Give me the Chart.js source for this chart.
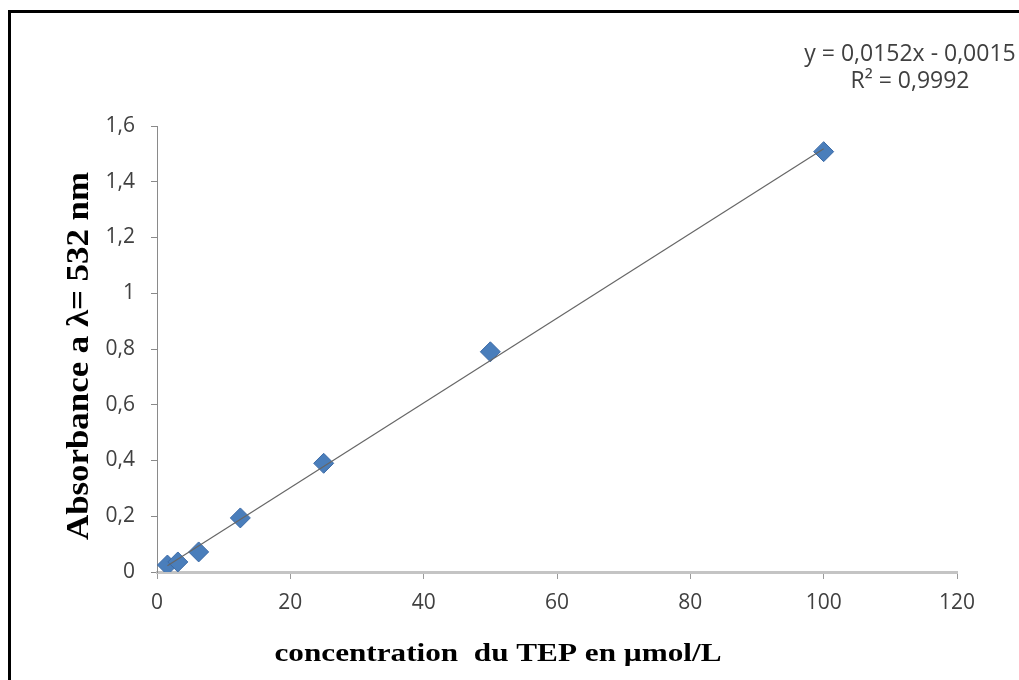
<!DOCTYPE html>
<html>
<head>
<meta charset="utf-8">
<script src="https://cdn.jsdelivr.net/npm/chart.js@4/dist/chart.umd.min.js"></script>
<style>
  html, body { margin: 0; padding: 0; background: #fff; }
  #wrap { position: relative; width: 1019px; height: 680px; overflow: hidden; }
  #frame {
    position: absolute; left: 8px; top: 10px; width: 1100px; height: 667px;
    border-left: 3px solid #000; border-top: 3px solid #000; border-bottom: 1px solid #e4e4e4;
  }
  #chartCanvas { position: absolute; left: 0; top: 0; }
</style>
</head>
<body>
<div id="wrap">
  <div id="frame"></div>
  <canvas id="chartCanvas" width="1019" height="680"></canvas>
</div>
<script>
// concentration du TEP (µmol/L) et absorbance lue
var concentrations = [1.5625, 3.125, 6.25, 12.5, 25, 50, 100];
var absorbances = [0.025, 0.036, 0.072, 0.194, 0.390, 0.790, 1.508];

// courbe de tendance (Excel)
var slope = 0.0152;
var intercept = -0.0015;
var equationLines = ["y = 0,0152x - 0,0015", "R\u00b2 = 0,9992"];

var xTitle = "concentration  du TEP en \u00b5mol/L";
var yTitle = "Absorbance a \u03bb= 532 nm";

var points = concentrations.map(function (c, i) {
    return { x: c, y: absorbances[i] };
});
var xMin = Math.min.apply(null, concentrations);
var xMax = Math.max.apply(null, concentrations);
var trend = [
    { x: xMin, y: slope * xMin + intercept },
    { x: xMax, y: slope * xMax + intercept }
];

function comma(v) {
    return (Math.round(v * 10) / 10).toString().replace(".", ",");
}

// draws text stretched along its direction to a given length
function stretchedText(ctx, text, cx, cy, angle, length) {
    var w = ctx.measureText(text).width;
    ctx.save();
    ctx.translate(cx, cy);
    ctx.rotate(angle);
    ctx.scale(length / w, 1);
    ctx.fillText(text, 0, 0);
    ctx.restore();
}

var textPlugin = {
    id: "texts",
    afterDraw: function (chart) {
        var ctx = chart.ctx;
        ctx.save();
        ctx.font = "23px 'Open Sans'";
        ctx.fillStyle = "#404040";
        ctx.textAlign = "center";
        ctx.textBaseline = "middle";
        ctx.fillText(equationLines[0], 910, 54);
        ctx.fillText(equationLines[1], 910, 81);

        ctx.fillStyle = "#000";
        ctx.textBaseline = "alphabetic";
        ctx.font = "bold 26px 'Liberation Serif'";
        stretchedText(ctx, xTitle, 498, 661, 0, 447);
        ctx.font = "bold 31px 'Liberation Serif'";
        stretchedText(ctx, yTitle, 88, 356, -Math.PI / 2, 368);
        ctx.restore();
    }
};

var ctx = document.getElementById("chartCanvas");
var chart = new Chart(ctx, {
    type: "scatter",
    data: {
        datasets: [
            {
                data: trend,
                showLine: true,
                borderColor: "#666",
                borderWidth: 1.2,
                pointRadius: 0,
                order: 0
            },
            {
                data: points,
                pointStyle: "rectRot",
                pointRadius: 10,
                pointBackgroundColor: "#4a7ebb",
                pointBorderColor: "#3c6aa6",
                pointBorderWidth: 1,
                order: 1
            }
        ]
    },
    options: {
        responsive: false,
        animation: false,
        layout: { padding: { top: 126, right: 62, left: 0, bottom: 0 } },
        plugins: {
            legend: { display: false },
            tooltip: { enabled: false }
        },
        scales: {
            x: {
                min: 0,
                max: 120,
                ticks: {
                    stepSize: 20,
                    padding: 11,
                    color: "#404040",
                    font: { family: "'Open Sans'", size: 21 }
                },
                grid: { drawOnChartArea: false, tickLength: 7, color: "#9a9a9a" },
                border: { color: "#c4c4c4", width: 3 },
                afterFit: function (scale) { scale.height = 108; }
            },
            y: {
                min: 0,
                max: 1.6,
                ticks: {
                    stepSize: 0.2,
                    padding: 16,
                    color: "#404040",
                    font: { family: "'Open Sans'", size: 21 },
                    callback: function (v) { return comma(v); }
                },
                grid: { drawOnChartArea: false, tickLength: 6, color: "#8a8a8a" },
                border: { color: "#8a8a8a", width: 1 },
                afterFit: function (scale) { scale.width = 157; }
            }
        }
    },
    plugins: [textPlugin]
});
</script>
</body>
</html>
